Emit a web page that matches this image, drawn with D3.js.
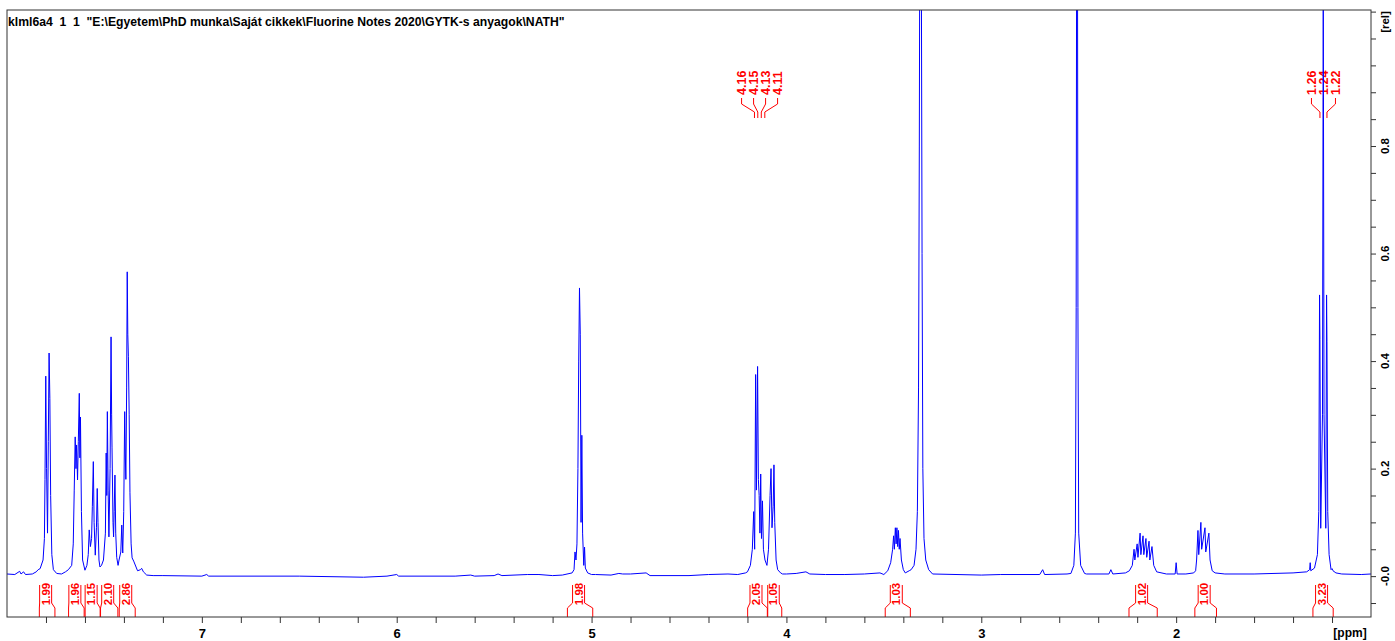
<!DOCTYPE html>
<html>
<head>
<meta charset="utf-8">
<script src="https://cdn.jsdelivr.net/npm/d3@7"></script>
<style>
body { margin: 0; background: #fff; }
text { font-family: "Liberation Sans", Arial, sans-serif; font-weight: bold; }
</style>
</head>
<body>
<div id="main"></div>
<script>
var width = 1395,
    height = 641;

var frame = { left: 7, right: 1371, top: 10, bottom: 617 };

var title = 'klml6a4  1  1  "E:\\Egyetem\\PhD munka\\Saját cikkek\\Fluorine Notes 2020\\GYTK-s anyagok\\NATH"';

// spectrum, [ppm, relative intensity]
var baseLeft = [[8.00,0.004],[7.96,0.003],[7.935,0.009],[7.928,0.004],[7.915,0.008],[7.905,0.003],[7.87,0.004],[7.85,0.008],[7.84,0.012]];
var aromatic = [
  [7.83,0.014],[7.815,0.03],[7.808,0.07],[7.805,0.18],[7.801,0.372],[7.797,0.20],[7.792,0.08],[7.788,0.25],[7.784,0.415],[7.780,0.33],[7.776,0.15],[7.770,0.04],[7.762,0.012],[7.745,0.005],[7.72,0.004],[7.70,0.008],
  [7.685,0.012],[7.668,0.02],[7.660,0.06],[7.655,0.16],[7.650,0.259],[7.646,0.20],[7.643,0.244],[7.638,0.179],[7.634,0.25],[7.629,0.340],[7.626,0.22],[7.623,0.296],[7.618,0.12],[7.612,0.03],[7.600,0.011],
  [7.590,0.02],[7.583,0.04],[7.578,0.086],[7.572,0.055],[7.566,0.07],[7.562,0.13],[7.557,0.213],[7.553,0.10],[7.547,0.039],[7.541,0.09],[7.537,0.163],[7.533,0.10],[7.528,0.03],[7.523,0.017],
  [7.515,0.02],[7.505,0.03],[7.495,0.08],[7.491,0.229],[7.488,0.15],[7.485,0.306],[7.481,0.16],[7.477,0.073],[7.471,0.20],[7.466,0.445],[7.463,0.30],[7.461,0.24],[7.456,0.10],[7.453,0.073],[7.450,0.12],[7.446,0.188],[7.442,0.08],[7.437,0.035],[7.430,0.02],
  [7.425,0.03],[7.416,0.045],[7.411,0.095],[7.406,0.043],[7.401,0.12],[7.396,0.306],[7.393,0.229],[7.390,0.18],[7.386,0.35],[7.383,0.566],[7.380,0.45],[7.377,0.408],[7.373,0.30],[7.369,0.155],[7.363,0.06],[7.358,0.034],[7.350,0.028],[7.330,0.01],[7.315,0.012],[7.309,0.0145],[7.300,0.008],[7.283,0.002],[7.25,0.001]
];
var baseMid = [[7.20,0.001],[7.0,0.0],[6.975,0.003],[6.965,0.0],[6.5,0.0],[6.17,-0.002],[6.05,0.0],[6.0,0.003],[5.99,0.0],[5.7,0.0],[5.62,0.002],[5.6,0.0],[5.5,0.001],[5.48,0.004],[5.46,0.001],[5.33,0.003],[5.27,0.003],[5.2,0.001],[5.15,0.002]];
var ch2Benzyl = [[5.10,0.006],[5.09,0.012],[5.085,0.045],[5.080,0.03],[5.075,0.06],[5.070,0.20],[5.066,0.40],[5.062,0.536],[5.058,0.45],[5.054,0.10],[5.050,0.262],[5.046,0.08],[5.040,0.02],[5.036,0.054],[5.032,0.015],[5.02,0.006],[5.00,0.003]];
var baseMid2 = [[4.98,0.003],[4.9,0.002],[4.86,0.005],[4.84,0.004],[4.80,0.004],[4.72,0.006],[4.70,0.001],[4.5,0.001],[4.4,0.003],[4.3,0.004],[4.25,0.003],[4.21,0.006]];
var och2 = [[4.20,0.008],[4.185,0.02],[4.175,0.05],[4.168,0.12],[4.163,0.05],[4.158,0.375],[4.154,0.16],[4.148,0.39],[4.144,0.18],[4.140,0.15],[4.136,0.08],[4.132,0.19],[4.128,0.07],[4.123,0.14],[4.118,0.05],[4.110,0.03],[4.100,0.02],[4.092,0.05],[4.084,0.15],[4.079,0.20],[4.074,0.09],[4.068,0.13],[4.064,0.207],[4.060,0.10],[4.053,0.03],[4.045,0.012],[4.03,0.006],[4.02,0.004]];
var baseMid3 = [[4.0,0.004],[3.95,0.005],[3.90,0.008],[3.88,0.004],[3.8,0.003],[3.7,0.003],[3.6,0.004],[3.52,0.006]];
var ch34 = [[3.50,0.003],[3.48,0.01],[3.465,0.025],[3.455,0.05],[3.450,0.075],[3.446,0.05],[3.441,0.09],[3.437,0.06],[3.433,0.09],[3.429,0.055],[3.425,0.085],[3.421,0.05],[3.417,0.07],[3.410,0.03],[3.40,0.012],[3.39,0.006],[3.37,0.01]];
var water = [[3.36,0.012],[3.345,0.02],[3.335,0.05],[3.328,0.12],[3.322,0.35],[3.318,0.8],[3.315,1.3],[3.312,1.4],[3.308,1.2],[3.304,0.6],[3.300,0.2],[3.294,0.07],[3.285,0.03],[3.27,0.012],[3.25,0.004]];
var baseMid4 = [[3.0,0.002],[2.9,0.003],[2.70,0.003],[2.685,0.012],[2.675,0.003],[2.56,0.004]];
var dmso = [[2.54,0.005],[2.525,0.02],[2.517,0.08],[2.513,0.5],[2.510,1.4],[2.507,1.4],[2.504,0.5],[2.500,0.08],[2.49,0.02],[2.47,0.005]];
var baseMid5 = [[2.46,0.004],[2.345,0.004],[2.335,0.012],[2.325,0.004],[2.26,0.006]];
var ch2a = [[2.24,0.01],[2.225,0.02],[2.216,0.05],[2.212,0.03],[2.200,0.06],[2.196,0.035],[2.185,0.08],[2.181,0.04],[2.170,0.075],[2.166,0.04],[2.155,0.07],[2.151,0.035],[2.139,0.065],[2.135,0.03],[2.124,0.055],[2.115,0.02],[2.10,0.008]];
var baseMid6 = [[2.05,0.004],[2.005,0.004],[2.0,0.025],[1.995,0.004],[1.95,0.004],[1.91,0.006]];
var ch2b = [[1.90,0.01],[1.895,0.03],[1.888,0.085],[1.884,0.04],[1.873,0.10],[1.869,0.05],[1.852,0.09],[1.848,0.045],[1.832,0.08],[1.826,0.03],[1.815,0.01],[1.80,0.006]];
var ch3 = [[1.75,0.004],[1.6,0.004],[1.40,0.006],[1.33,0.008],[1.315,0.012],[1.312,0.025],[1.309,0.01],[1.29,0.015],[1.275,0.04],[1.268,0.12],[1.264,0.523],[1.262,0.44],[1.258,0.089],[1.249,0.30],[1.245,1.10],[1.241,0.30],[1.232,0.089],[1.228,0.523],[1.226,0.436],[1.222,0.12],[1.215,0.04],[1.205,0.012],[1.20,0.014],[1.195,0.01],[1.18,0.006],[1.15,0.004],[1.05,0.003],[1.0,0.004]];

var xTicks = [7, 6, 5, 4, 3, 2];
var yTicks = [0, 0.2, 0.4, 0.6, 0.8];
var yTickLabels = ["-0.0", "0.2", "0.4", "0.6", "0.8"];

var integralLabels = ["1.99","1.96","1.15","2.10","2.86","1.98","2.05","1.05","1.03","1.02","1.00","3.23"];
var integralFrom = [7.834, 7.684, 7.599, 7.520, 7.424, 5.124, 4.199, 4.096, 3.493, 2.242, 1.904, 1.298];
var integralTo = [7.754, 7.604, 7.522, 7.431, 7.342, 4.994, 4.098, 4.024, 3.364, 2.097, 1.793, 1.194];

var peakLabelsA = ["4.16", "4.15", "4.13", "4.11"];
var peakPpmA = [4.164, 4.147, 4.129, 4.111];
var peakLabelsB = ["1.26", "1.24", "1.22"];
var peakPpmB = [1.262, 1.244, 1.226];

var spectrum = [].concat(baseLeft, aromatic, baseMid, ch2Benzyl, baseMid2, och2, baseMid3, ch34, water,
    baseMid4, dmso, baseMid5, ch2a, baseMid6, ch2b, ch3);

var svg = d3.select("div#main").append("svg")
    .attr("width", width)
    .attr("height", height);

var x = d3.scaleLinear().domain([8.0, 1.0]).range([frame.left, frame.right]);
var y = d3.scaleLinear().domain([-0.076, 1.053]).range([frame.bottom, frame.top]);

svg.append("text")
    .attr("x", 8)
    .attr("y", 26)
    .style("font-size", "12.2px")
    .style("white-space", "pre")
    .text(title);

// x axis: ticks every 0.2 ppm, labels on whole ppm
var minorX = d3.range(39, 5, -1).map(function(d) { return d / 5; });
var xAxis = svg.append("g")
    .attr("transform", `translate(0,${frame.bottom})`)
    .call(d3.axisBottom(x)
        .tickValues(minorX)
        .tickSize(6)
        .tickSizeOuter(0)
        .tickPadding(6)
        .tickFormat(function(d) { return xTicks.indexOf(Math.round(d * 10) / 10) >= 0 ? d3.format("d")(d) : ""; }));
xAxis.select(".domain").remove();
xAxis.selectAll("line").attr("stroke", "#333");
xAxis.selectAll("text").style("font-size", "13px").attr("fill", "#000")
    .style("font-family", '"Liberation Sans", Arial, sans-serif').style("font-weight", "bold");

svg.append("text")
    .attr("x", 1350)
    .attr("y", 637)
    .attr("text-anchor", "middle")
    .style("font-size", "12px")
    .text("[ppm]");

// y axis on the right, ticks every 0.05
var minorY = d3.range(-1, 22).map(function(d) { return d * 0.05; });
var yAxis = svg.append("g")
    .attr("transform", `translate(${frame.right},0)`)
    .call(d3.axisRight(y).tickValues(minorY).tickSize(5).tickSizeOuter(0).tickFormat(""));
yAxis.select(".domain").remove();
yAxis.selectAll("line").attr("stroke", "#333");

svg.selectAll(".ylab")
    .data(yTicks)
    .enter().append("text")
    .attr("class", "ylab")
    .attr("transform", function(d) { return `translate(1389,${y(d)}) rotate(-90)`; })
    .attr("text-anchor", "middle")
    .style("font-size", "11.5px")
    .text(function(d, i) { return yTickLabels[i]; });

svg.append("text")
    .attr("transform", "translate(1389,22) rotate(-90)")
    .attr("text-anchor", "middle")
    .style("font-size", "11.5px")
    .text("[rel]");

// integrals under the baseline
var integ = svg.selectAll(".integral")
    .data(integralLabels)
    .enter().append("g")
    .attr("class", "integral");

integ.append("path")
    .attr("fill", "none")
    .attr("stroke", "#f00")
    .attr("stroke-width", 1)
    .attr("d", function(d, i) {
        var x1 = x(integralFrom[i]), x2 = x(integralTo[i]);
        var c = (x1 + x2) / 2 - 1.5;
        var a = Math.max(c - 6, x1), b = Math.min(c + 6, x2);
        return `M${x1},${frame.bottom}V608L${a},603V585M${x2},${frame.bottom}V608L${b},603V585`;
    });

integ.append("text")
    .attr("transform", function(d, i) {
        var c = (x(integralFrom[i]) + x(integralTo[i])) / 2 - 1.5;
        return `translate(${c + 4},594) rotate(-90)`;
    })
    .attr("text-anchor", "middle")
    .attr("fill", "#f00")
    .style("font-size", "11.5px")
    .text(function(d) { return d; });

// peak picking labels
function peakLabels(labels, ppms) {
    var n = labels.length;
    var mid = d3.mean(ppms.map(function(p) { return x(p); }));
    var g = svg.append("g");
    labels.forEach(function(lab, i) {
        var lx = mid + (i - (n - 1) / 2) * 12;
        var px = x(ppms[i]);
        g.append("text")
            .attr("transform", `translate(${lx + 4.5},95) rotate(-90)`)
            .attr("fill", "#f00")
            .style("font-size", "12.5px")
            .text(lab);
        g.append("path")
            .attr("fill", "none")
            .attr("stroke", "#f00")
            .attr("d", `M${lx},98V104L${px},112V118`);
    });
}
peakLabels(peakLabelsA, peakPpmA);
peakLabels(peakLabelsB, peakPpmB);

// spectrum trace
svg.append("clipPath")
    .attr("id", "plotclip")
    .append("rect")
    .attr("x", frame.left)
    .attr("y", frame.top)
    .attr("width", frame.right - frame.left)
    .attr("height", frame.bottom - frame.top);

var line = d3.line()
    .x(function(d) { return x(d[0]); })
    .y(function(d) { return y(d[1]); });

svg.append("path")
    .datum(spectrum)
    .attr("clip-path", "url(#plotclip)")
    .attr("fill", "none")
    .attr("stroke", "#0000ff")
    .attr("stroke-width", 1)
    .attr("d", line);

svg.append("rect")
    .attr("x", frame.left)
    .attr("y", frame.top)
    .attr("width", frame.right - frame.left)
    .attr("height", frame.bottom - frame.top)
    .attr("fill", "none")
    .attr("stroke", "#333")
    .attr("stroke-width", 1);
</script>
</body>
</html>
